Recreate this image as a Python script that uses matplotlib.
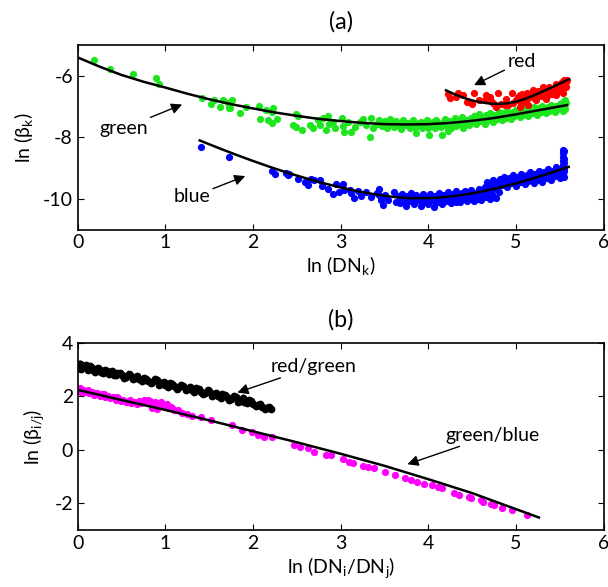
"""Two-panel log-log plot of beta vs DN per colour channel, and channel ratios."""

import matplotlib

matplotlib.use("Agg")
import matplotlib.pyplot as plt

plt.rcParams["font.family"] = ["Lato", "DejaVu Sans"]
plt.rcParams["mathtext.fontset"] = "custom"
plt.rcParams["mathtext.rm"] = "Lato"
plt.rcParams["mathtext.it"] = "Lato:italic"
plt.rcParams["axes.unicode_minus"] = False
plt.rcParams["font.size"] = 14

# ---- panel (a): ln(beta_k) vs ln(DN_k) ----
green_x = [0.19, 0.37, 0.63, 0.89, 0.93, 1.42, 1.52, 1.55, 1.62, 1.66, 1.71, 1.74, 1.76, 1.73,
           1.85, 1.92, 2.07, 2.08, 2.15, 2.21, 2.23, 2.17, 2.21, 2.27, 2.49, 2.51, 2.46, 2.49,
           2.56, 2.65, 2.68, 2.74, 2.76, 2.80, 2.83, 2.85, 2.87, 2.91, 2.93, 3.01, 3.03, 3.04,
           3.08, 3.12, 3.16, 3.22, 3.25, 3.29, 3.33, 3.35, 3.37, 3.41, 3.44,
           3.47, 3.50, 3.53, 3.56, 3.58, 3.61, 3.63, 3.66, 3.69, 3.71, 3.74, 3.77, 3.79, 3.82,
           3.84, 3.86, 3.88, 3.91, 3.93, 3.96, 3.98, 4.01, 4.02, 4.05, 4.07, 4.09, 4.12, 4.14,
           4.15, 4.17, 4.19, 4.21, 4.22, 4.24, 4.26, 4.28, 4.30, 4.32, 4.34, 4.36, 4.38, 4.40,
           4.42, 4.44, 4.46, 4.48, 4.50, 4.52, 4.54, 4.56, 4.58, 4.60, 4.62, 4.64, 4.66, 4.68,
           4.70, 4.72, 4.74, 4.76, 4.78, 4.80, 4.82, 4.84, 4.86, 4.88, 4.90, 4.92, 4.94, 4.96,
           4.98, 5.00, 5.02, 5.04, 5.06, 5.08, 5.10, 5.12, 5.14, 5.16, 5.18, 5.20, 5.22, 5.24,
           5.26, 5.28, 5.30, 5.32, 5.34, 5.36, 5.38, 5.40, 5.42, 5.44, 5.46, 5.48, 5.50, 5.52,
           5.53, 5.54, 5.55, 5.56, 5.57, 5.56,
           3.48, 3.52, 3.57, 3.62, 3.67, 3.72, 3.78, 3.83, 3.89, 3.94, 3.99, 4.04, 4.10, 4.16,
           4.23, 4.29, 4.35, 4.41, 4.47, 4.53, 4.59, 4.65, 4.71, 4.77, 4.83, 4.89, 4.95, 5.01,
           5.07, 5.13, 5.19, 5.25, 5.31, 5.37, 5.43, 5.49, 5.52, 5.55]
green_y = [-5.47, -5.79, -5.94, -6.06, -6.27, -6.72, -6.93, -6.79, -7.01, -6.79, -6.87, -7.06,
           -6.79, -7.06, -7.22, -7.01, -6.99, -7.39, -7.10, -7.17, -7.03, -7.44, -7.53, -7.39,
           -7.23, -7.31, -7.61, -7.66, -7.75, -7.61, -7.71, -7.44, -7.61, -7.36, -7.75, -7.31,
           -7.55, -7.50, -7.71, -7.36, -7.64, -7.82, -7.50, -7.82, -7.66, -7.50, -7.39, -7.61,
           -7.99, -7.36, -7.71, -7.55, -7.44,
           -7.62, -7.48, -7.70, -7.41, -7.58, -7.66, -7.47, -7.56, -7.72, -7.43, -7.61, -7.52,
           -7.68, -7.45, -7.58, -7.86, -7.63, -7.49, -7.70, -7.55, -7.42, -7.93, -7.64, -7.51,
           -7.71, -7.45, -7.60, -7.67, -7.93, -7.50, -7.40, -7.62, -7.79, -7.48, -7.70, -7.55,
           -7.38, -7.64, -7.47, -7.58, -7.34, -7.69, -7.52, -7.42, -7.61, -7.36, -7.50, -7.30,
           -7.57, -7.42, -7.25, -7.48, -7.35, -7.55, -7.28, -7.44, -7.20, -7.38, -7.50, -7.26,
           -7.40, -7.17, -7.33, -7.45, -7.22, -7.36, -7.14, -7.28, -7.40, -7.19, -7.31, -7.10,
           -7.24, -7.35, -7.15, -7.27, -7.06, -7.20, -7.30, -7.11, -7.22, -7.02, -7.15, -7.26,
           -7.06, -7.18, -6.98, -7.10, -7.22, -7.02, -7.14, -6.94, -7.06, -7.17, -6.97, -7.09,
           -6.90, -7.02, -7.13, -6.85, -6.96, -7.08, -6.88, -6.80,
           -7.55, -7.64, -7.50, -7.59, -7.66, -7.52, -7.60, -7.67, -7.54, -7.62, -7.68, -7.57,
           -7.52, -7.58, -7.56, -7.47, -7.53, -7.45, -7.43, -7.40, -7.36, -7.40, -7.30, -7.33,
           -7.24, -7.28, -7.20, -7.17, -7.21, -7.12, -7.14, -7.10, -7.04, -7.08, -7.00, -6.97,
           -6.92, -6.88]

red_x = [4.22, 4.31, 4.34, 4.44, 4.52, 4.58, 4.64, 4.66, 4.72, 4.77, 4.79, 4.83, 4.89, 4.91,
         4.95, 4.96, 5.00, 5.04, 5.06, 5.10, 5.12, 5.15, 5.19, 5.23, 5.27, 5.31, 5.34, 5.38,
         5.42, 5.46, 5.50, 5.52, 5.55, 5.57, 5.53, 5.46, 5.34, 5.23, 5.14, 5.04, 5.08, 5.17,
         5.21, 5.25, 5.29, 5.32, 5.36, 5.40, 5.44, 5.48, 5.51, 5.54, 5.56, 4.87, 4.75, 4.70,
         4.50, 4.25, 4.40, 5.02, 5.07, 5.13, 5.18, 5.24, 5.28, 5.33, 5.37, 5.41, 5.45, 5.49,
         5.52, 5.55, 5.57, 5.58]
red_y = [-6.60, -6.68, -6.57, -6.85, -6.57, -6.77, -6.77, -6.63, -6.85, -7.01, -6.57, -6.90,
         -6.74, -6.95, -6.57, -6.88, -6.77, -6.63, -6.90, -6.79, -6.57, -6.68, -6.47, -6.63,
         -6.57, -6.36, -6.47, -6.36, -6.41, -6.25, -6.30, -6.19, -6.14, -6.36, -6.57, -6.63,
         -6.74, -6.79, -6.95, -7.01, -6.70, -6.58, -6.72, -6.50, -6.66, -6.55, -6.62, -6.50,
         -6.40, -6.50, -6.42, -6.30, -6.22, -6.95, -6.92, -6.70, -6.90, -6.72, -6.62, -6.70,
         -6.60, -6.75, -6.64, -6.70, -6.48, -6.60, -6.52, -6.58, -6.46, -6.38, -6.48, -6.28,
         -6.20, -6.12]

blue_x = [1.40, 1.72, 2.22, 2.25, 2.37, 2.40, 2.41, 2.51, 2.59, 2.63, 2.66, 2.70, 2.76, 2.78,
          2.85, 2.91, 2.94, 2.98, 3.03, 3.04, 3.10, 3.12, 3.15, 3.20, 3.23, 3.29, 3.35, 3.41,
          3.44, 3.44, 3.46, 3.48, 3.50, 3.54, 3.61, 3.63,
          3.66, 3.68, 3.70, 3.72, 3.74, 3.76, 3.78, 3.80, 3.82, 3.84, 3.86, 3.88, 3.90, 3.92,
          3.94, 3.96, 3.98, 4.00, 4.02, 4.04, 4.06, 4.08, 4.10, 4.12, 4.14, 4.16, 4.18, 4.20,
          4.22, 4.24, 4.26, 4.28, 4.30, 4.32, 4.34, 4.36, 4.38, 4.40, 4.42, 4.44, 4.46, 4.48,
          4.50, 4.52, 4.54, 4.56, 4.58, 4.60, 4.62, 4.64, 4.66, 4.67, 4.68, 4.70, 4.71, 4.73,
          4.74, 4.76, 4.77, 4.78, 4.80, 4.82, 4.84, 4.86, 4.88, 4.90, 4.92, 4.94, 4.96, 4.98,
          5.00, 5.02, 5.04, 5.06, 5.08, 5.10, 5.12, 5.14, 5.16, 5.18, 5.20, 5.22, 5.24, 5.26,
          5.28, 5.30, 5.32, 5.34, 5.36, 5.38, 5.40, 5.42, 5.44, 5.46, 5.48, 5.50, 5.52, 5.53,
          5.54, 5.55, 5.55, 5.54, 5.54, 5.54, 5.54, 5.55, 5.55, 5.55,
          3.67, 3.71, 3.75, 3.79, 3.83, 3.87, 3.91, 3.95, 3.99, 4.03, 4.07, 4.11, 4.15, 4.19,
          4.23, 4.27, 4.31, 4.35, 4.39, 4.43, 4.47, 4.51, 4.55, 4.59, 4.63, 4.67, 4.69, 4.72,
          4.75, 4.79, 4.81, 4.85, 4.89, 4.93, 4.97, 5.01, 5.05, 5.09, 5.13, 5.17, 5.21, 5.25,
          5.29, 5.33, 5.37, 5.41, 5.45, 5.49, 5.52, 5.55]
blue_y = [-8.33, -8.64, -9.09, -9.18, -9.15, -9.23, -9.20, -9.34, -9.45, -9.56, -9.34, -9.40,
          -9.40, -9.59, -9.67, -9.83, -9.53, -9.78, -9.53, -9.70, -9.72, -9.81, -9.99, -9.74,
          -9.92, -9.78, -9.94, -9.81, -9.67, -9.89, -10.05, -10.21, -9.89, -10.03, -9.78, -10.10,
          -9.92, -10.15, -9.84, -10.02, -10.25, -9.90, -10.08, -9.80, -10.00, -10.18, -9.88,
          -10.05, -9.95, -10.22, -9.83, -10.10, -9.97, -10.16, -9.86, -10.04, -10.26, -9.92,
          -10.10, -9.82, -10.00, -10.18, -9.88, -10.06, -9.78, -9.96, -10.14, -9.85, -10.03,
          -9.76, -9.93, -10.10, -9.82, -9.99, -9.74, -10.07, -9.88, -9.72, -9.96, -10.08, -9.80,
          -9.92, -9.68, -10.04, -9.85, -9.60, -9.95, -9.45, -9.75, -10.02, -9.55, -9.86, -9.40,
          -9.66, -9.98, -9.50, -9.78, -9.35, -9.55, -9.28, -9.46, -9.62, -9.32, -9.50, -9.22,
          -9.40, -9.58, -9.28, -9.45, -9.18, -9.36, -9.52, -9.24, -9.42, -9.14, -9.32, -9.48,
          -9.20, -9.38, -9.10, -9.28, -9.44, -9.14, -9.32, -9.04, -9.22, -9.38, -9.08, -9.26,
          -8.98, -9.16, -9.32, -9.02, -9.20, -8.90, -9.10, -9.28, -8.40, -8.52, -8.64, -8.76,
          -8.46, -8.70, -8.82,
          -10.05, -9.95, -10.12, -9.98, -10.10, -9.98, -10.08, -9.92, -10.06, -9.95, -10.12,
          -9.96, -10.08, -9.94, -10.05, -9.92, -10.10, -9.86, -10.02, -9.90, -10.00, -9.86,
          -10.02, -9.88, -9.76, -9.85, -9.62, -9.70, -9.58, -9.62, -9.45, -9.42, -9.38, -9.42,
          -9.32, -9.38, -9.30, -9.26, -9.34, -9.24, -9.30, -9.20, -9.18, -9.24, -9.12, -9.18,
          -9.10, -9.06, -9.12, -9.00]

# quadratic fits, tabulated
green_fit_x = [0.0, 0.25, 0.5, 0.75, 1.0, 1.25, 1.5, 1.75, 2.0, 2.25, 2.5, 2.75, 3.0, 3.25,
               3.5, 3.75, 4.0, 4.25, 4.5, 4.75, 5.0, 5.25, 5.58]
green_fit_y = [-5.40, -5.70, -5.97, -6.19, -6.38, -6.58, -6.76, -6.92, -7.06, -7.19, -7.30,
               -7.40, -7.47, -7.53, -7.57, -7.58, -7.57, -7.53, -7.46, -7.37, -7.25, -7.12,
               -6.95]
red_fit_x = [4.20, 4.30, 4.40, 4.50, 4.60, 4.70, 4.80, 4.90, 5.00, 5.10, 5.20, 5.30, 5.40,
             5.50, 5.60]
red_fit_y = [-6.47, -6.60, -6.71, -6.80, -6.86, -6.90, -6.91, -6.89, -6.84, -6.75, -6.64,
             -6.51, -6.38, -6.25, -6.11]
blue_fit_x = [1.39, 1.6, 1.8, 2.0, 2.2, 2.4, 2.6, 2.8, 3.0, 3.2, 3.4, 3.6, 3.8, 4.0, 4.2,
              4.4, 4.6, 4.8, 5.0, 5.2, 5.4, 5.6]
blue_fit_y = [-8.10, -8.34, -8.56, -8.77, -8.97, -9.16, -9.33, -9.49, -9.63, -9.76, -9.86,
              -9.94, -9.98, -9.98, -9.94, -9.87, -9.77, -9.64, -9.50, -9.33, -9.15, -8.96]

# ---- panel (b): channel ratios ----
rg_x = [0.00, 0.00, 0.00, 0.01, 0.01, 0.02, 0.03, 0.05, 0.07, 0.09, 0.12, 0.15, 0.18, 0.21,
        0.25, 0.29, 0.33, 0.37, 0.41, 0.45, 0.50, 0.55, 0.60, 0.65, 0.70, 0.75, 0.80, 0.85,
        0.90, 0.95, 1.00, 1.05, 1.10, 1.15, 1.20, 1.25, 1.30, 1.35, 1.40, 1.45, 1.50, 1.55,
        1.60, 1.65, 1.70, 1.75, 1.80, 1.85, 1.90, 1.95, 2.00, 2.05, 2.10, 2.15, 2.20,
        0.02, 0.04, 0.10, 0.14, 0.20, 0.23, 0.27, 0.31, 0.35, 0.39, 0.43, 0.48, 0.53, 0.58,
        0.63, 0.68, 0.73, 0.78, 0.83, 0.88, 0.93, 0.98, 1.03, 1.08, 1.13, 1.18, 1.23, 1.28,
        1.33, 1.38, 1.43, 1.48, 1.53, 1.58, 1.63, 1.68, 1.73, 1.78, 1.83, 1.88, 1.93, 1.98,
        2.03, 2.08, 2.13, 2.18]
rg_y = [3.20, 3.06, 3.13, 3.16, 3.04, 3.10, 3.19, 3.08, 3.14, 3.17, 3.00, 3.08, 2.96, 3.03,
        2.99, 2.88, 2.95, 2.89, 2.80, 2.86, 2.81, 2.72, 2.79, 2.69, 2.63, 2.70, 2.58, 2.53,
        2.60, 2.49, 2.44, 2.51, 2.38, 2.33, 2.40, 2.28, 2.22, 2.30, 2.17, 2.12, 2.19, 2.07,
        2.01, 2.08, 1.96, 1.91, 1.98, 1.84, 1.80, 1.86, 1.73, 1.68, 1.61, 1.57, 1.51,
        3.22, 3.02, 3.10, 3.14, 2.92, 3.07, 2.92, 3.00, 2.84, 2.93, 2.78, 2.88, 2.70, 2.84,
        2.64, 2.75, 2.58, 2.66, 2.50, 2.64, 2.42, 2.55, 2.36, 2.47, 2.29, 2.43, 2.22, 2.35,
        2.15, 2.27, 2.08, 2.23, 2.01, 2.13, 1.95, 2.04, 1.88, 2.02, 1.79, 1.92, 1.74, 1.84,
        1.64, 1.72, 1.54, 1.60]

gb_x = [0.00, 0.00, 0.02, 0.04, 0.06, 0.08, 0.10, 0.13, 0.16, 0.19, 0.22, 0.25, 0.28, 0.31,
        0.34, 0.37, 0.40, 0.43, 0.46, 0.49, 0.52, 0.55, 0.58, 0.61, 0.64, 0.67, 0.70, 0.73,
        0.76, 0.79, 0.82, 0.85, 0.88, 0.91, 0.94, 0.97, 1.00, 1.03, 1.06, 1.10, 1.14, 0.85,
        0.90, 0.03, 0.12, 0.20, 0.30, 0.45, 0.60, 0.72, 0.80, 0.95, 1.02, 1.08,
        1.19, 1.24, 1.30, 1.41, 1.52, 1.76, 1.87, 1.99, 2.05, 2.12, 2.21, 2.47, 2.54,
        2.63, 2.69, 2.83, 2.89, 3.03, 3.09, 3.14, 3.25, 3.31, 3.38, 3.51, 3.62, 3.73, 3.80,
        3.87, 3.95, 4.04, 4.11, 4.15, 4.29, 4.35, 4.46, 4.48, 4.60, 4.62, 4.71, 4.75, 4.84,
        4.95, 5.12]
gb_y = [2.28, 2.20, 2.24, 2.17, 2.25, 2.15, 2.20, 2.12, 2.17, 2.06, 2.11, 2.03, 2.08, 1.98,
        2.02, 1.94, 1.98, 1.88, 1.92, 1.84, 1.87, 1.78, 1.82, 1.74, 1.78, 1.70, 1.84, 1.80,
        1.85, 1.77, 1.83, 1.74, 1.80, 1.70, 1.76, 1.62, 1.66, 1.57, 1.60, 1.50, 1.47, 1.55,
        1.52, 2.30, 2.24, 2.14, 2.08, 1.97, 1.85, 1.76, 1.88, 1.80, 1.70, 1.55,
        1.37, 1.33, 1.28, 1.24, 1.12, 0.93, 0.74, 0.68, 0.55, 0.49, 0.49, 0.18, 0.12,
        0.05, -0.07, -0.20, -0.20, -0.36, -0.45, -0.51, -0.59, -0.63, -0.69, -0.82, -0.94,
        -1.07, -1.13, -1.19, -1.26, -1.32, -1.38, -1.44, -1.61, -1.69, -1.76, -1.82, -1.88,
        -1.94, -2.03, -2.07, -2.16, -2.26, -2.44]
gb_fit_x = [0.0, 0.5, 1.0, 1.5, 2.0, 2.5, 3.0, 3.5, 4.0, 4.5, 5.0, 5.26]
gb_fit_y = [2.24, 1.86, 1.49, 1.10, 0.69, 0.28, -0.15, -0.60, -1.10, -1.62, -2.22, -2.53]

GREEN = "#1ee61e"
MS = 5.2
ARROW = dict(arrowstyle="-|>", color="k", lw=1.0, mutation_scale=16, shrinkA=0, shrinkB=0)

fig = plt.figure(figsize=(6.08, 5.87), dpi=100)
ax1 = fig.add_axes([0.128, 0.609, 0.865, 0.314])
ax2 = fig.add_axes([0.128, 0.097, 0.865, 0.319])

ax1.plot(green_x, green_y, "o", color=GREEN, ms=MS, mec="none")
ax1.plot(red_x, red_y, "o", color="#ff0000", ms=MS, mec="none")
ax1.plot(blue_x, blue_y, "o", color="#0000ff", ms=MS, mec="none")
for fx, fy in [(green_fit_x, green_fit_y), (red_fit_x, red_fit_y), (blue_fit_x, blue_fit_y)]:
    ax1.plot(fx, fy, "-", color="k", lw=1.8)

ax1.annotate("red", xy=(4.52, -6.30), xytext=(5.06, -5.54), ha="center", va="center",
             arrowprops=ARROW)
ax1.annotate("green", xy=(1.19, -6.93), xytext=(0.52, -7.71), ha="center", va="center",
             arrowprops=ARROW)
ax1.annotate("blue", xy=(1.91, -9.26), xytext=(1.30, -9.94), ha="center", va="center",
             arrowprops=ARROW)

ax1.set_xlim(0, 6)
ax1.set_ylim(-11, -5)
ax1.set_yticks([-10, -8, -6])
ax1.set_xlabel(r"ln (DN$_\mathrm{k}$)", labelpad=2)
ax1.set_ylabel(r"ln ($\mathrm{\beta}_\mathrm{k}$)", labelpad=6)
ax1.set_title("(a)", pad=12)

ax2.plot(gb_x, gb_y, "o", color="#ff00ff", ms=MS, mec="none")
ax2.plot(gb_fit_x, gb_fit_y, "-", color="k", lw=1.8)
ax2.plot(rg_x, rg_y, "o", color="k", ms=MS + 0.4, mec="none")

ax2.annotate("red/green", xy=(1.82, 2.14), xytext=(2.69, 3.11), ha="center", va="center",
             arrowprops=ARROW)
ax2.annotate("green/blue", xy=(3.76, -0.54), xytext=(4.73, 0.55), ha="center", va="center",
             arrowprops=ARROW)

ax2.set_xlim(0, 6)
ax2.set_ylim(-3, 4)
ax2.set_yticks([-2, 0, 2, 4])
ax2.set_xlabel(r"ln (DN$_\mathrm{i}$/DN$_\mathrm{j}$)", labelpad=2)
ax2.set_ylabel(r"ln ($\mathrm{\beta}_\mathrm{i/j}$)", labelpad=6)
ax2.set_title("(b)", pad=12)

for ax in (ax1, ax2):
    ax.set_xticks(range(0, 7))
    ax.tick_params(direction="in", top=True, right=True, length=4, width=0.8, labelsize=14)
    for sp in ax.spines.values():
        sp.set_linewidth(1.2)

fig.savefig("out.png", dpi=100)
